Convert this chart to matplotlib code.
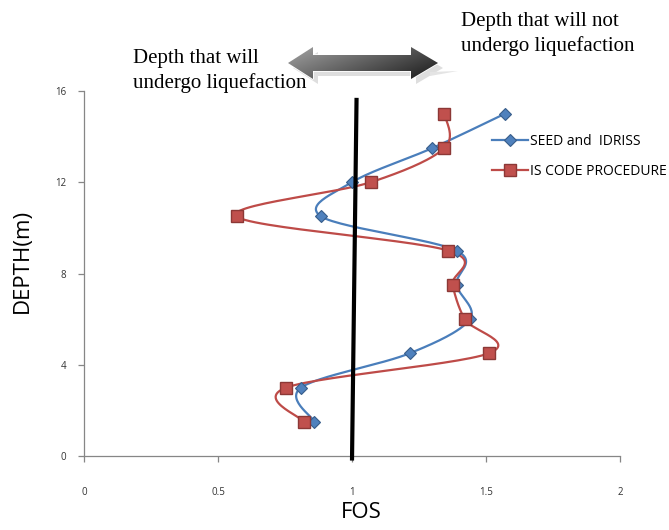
import numpy as np
import matplotlib
matplotlib.use("Agg")
import matplotlib.pyplot as plt
from matplotlib.patches import Polygon

depth = [1.5, 3, 4.5, 6, 7.5, 9, 10.5, 12, 13.5, 15]
fos_seed = [0.86, 0.81, 1.215, 1.44, 1.39, 1.39, 0.885, 1.0, 1.30, 1.57]
fos_is = [0.82, 0.755, 1.51, 1.42, 1.375, 1.36, 0.57, 1.07, 1.345, 1.345]
fos_limit = [1.0, 1.017]
depth_limit = [-0.2, 15.7]

x_ticks = [0, 0.5, 1, 1.5, 2]
x_tick_labels = ["0", "0.5", "1", "1.5", "2"]
y_ticks = [0, 4, 8, 12, 16]


def smooth(xs, ys, n=30):
    # catmull-rom style bezier smoothing through every point
    p = np.column_stack([xs, ys]).astype(float)
    ext = np.vstack([p[0], p, p[-1]])
    out = []
    t = np.linspace(0, 1, n)[:, None]
    for i in range(len(p) - 1):
        p0, p1, p2, p3 = ext[i], ext[i + 1], ext[i + 2], ext[i + 3]
        c1 = p1 + (p2 - p0) / 6.0
        c2 = p2 - (p3 - p1) / 6.0
        seg = ((1 - t) ** 3) * p1 + 3 * ((1 - t) ** 2) * t * c1 + 3 * (1 - t) * t ** 2 * c2 + t ** 3 * p2
        out.append(seg if i == 0 else seg[1:])
    s = np.vstack(out)
    return s[:, 0], s[:, 1]


W, H = 669, 530
fig = plt.figure(figsize=(W / 100, H / 100), dpi=100)
ax = fig.add_axes([84 / W, (H - 456) / H, (620 - 84) / W, (456 - 91) / H])

blue_line, blue_face, blue_edge = "#4A7EBB", "#4F81BD", "#385D8A"
red_line, red_face, red_edge = "#BE4B48", "#C0504D", "#8C3836"

sx, sy = smooth(fos_seed, depth)
ax.plot(sx, sy, color=blue_line, lw=1.6, zorder=3)
ax.plot(fos_seed, depth, ls="none", marker="D", ms=6.5, mfc=blue_face, mec=blue_edge, mew=0.8, zorder=4)
rx, ry = smooth(fos_is, depth)
ax.plot(rx, ry, color=red_line, lw=1.6, zorder=3)
ax.plot(fos_is, depth, ls="none", marker="s", ms=8.5, mfc=red_face, mec=red_edge, mew=1.0, zorder=5)

ax.plot(fos_limit, depth_limit, color="black", lw=3, zorder=6, clip_on=False, solid_capstyle="butt")

# legend entries built from proxy lines
h1, = ax.plot([], [], color=blue_line, lw=1.6, marker="D", ms=6.5, mfc=blue_face, mec=blue_edge, mew=0.8)
h2, = ax.plot([], [], color=red_line, lw=1.6, marker="s", ms=8.5, mfc=red_face, mec=red_edge, mew=1.0)
leg = ax.legend([h1, h2], ["SEED and  IDRISS", "IS CODE PROCEDURE"], loc="upper left",
                bbox_to_anchor=(492 / W, 1 - 134 / H), bbox_transform=fig.transFigure,
                frameon=False, handlelength=2.6, handletextpad=0.1,
                labelspacing=1.05, borderpad=0, borderaxespad=0,
                prop={"family": "Open Sans", "size": 10})

ax.set_xlim(0, 2)
ax.set_ylim(0, 16)
ax.set_xticks(x_ticks)
ax.set_xticklabels(x_tick_labels)
ax.set_yticks(y_ticks)
for s in ["top", "right"]:
    ax.spines[s].set_visible(False)
for s in ["left", "bottom"]:
    ax.spines[s].set_color("#868686")
    ax.spines[s].set_linewidth(0.9)
ax.tick_params(colors="#868686", length=4, width=0.9, labelcolor="#333333", labelsize=7)
ax.tick_params(axis="x", pad=18)
ax.tick_params(axis="y", pad=9)
for lab in ax.get_xticklabels() + ax.get_yticklabels():
    lab.set_family("Open Sans")

fig.text(22 / W, 1 - 261 / H, "DEPTH(m)", rotation=90, ha="center", va="center",
         fontsize=16, family="Open Sans")
fig.text(361 / W, 1 - 513 / H, "FOS", ha="center", va="center", fontsize=16, family="Open Sans")

# overlay in pixel coordinates for the arrow and notes
ov = fig.add_axes([0, 0, 1, 1], zorder=10)
ov.set_xlim(0, W)
ov.set_ylim(H, 0)
ov.axis("off")
ov.patch.set_alpha(0)

arrow = np.array([[288, 63], [313, 47], [313, 55], [411, 55], [411, 47], [438, 63],
                  [411, 79], [411, 71], [313, 71], [313, 79]], dtype=float)
shadow = arrow + np.array([5, 5])
ov.add_patch(Polygon(shadow, closed=True, facecolor="#dedede", edgecolor="none"))
ov.add_patch(Polygon([[430, 72], [458, 71], [430, 76]], closed=True, facecolor="#e4e4e4", edgecolor="none"))

gx = np.linspace(0, 1, 200)[None, :]
gy = np.linspace(0, 1, 60)[:, None]
shade = 0.50 - 0.36 * gx + 0.16 * (1 - gy) - 0.06 * gy
shade = np.clip(shade, 0, 1)
img = np.dstack([shade, shade, shade])
body = Polygon(arrow, closed=True, facecolor="none", edgecolor="white", lw=1.2)
ov.add_patch(body)
im = ov.imshow(img, extent=(286, 440, 81, 45), aspect="auto", interpolation="bilinear", zorder=2)
im.set_clip_path(body)

ov.text(133, 71, "Depth that will\nundergo liquefaction", ha="left", va="center",
        fontsize=15, family="Liberation Serif", linespacing=1.3)
ov.text(461, 34, "Depth that will not\nundergo liquefaction", ha="left", va="center",
        fontsize=15, family="Liberation Serif", linespacing=1.3)

fig.savefig("out.png", dpi=100)
